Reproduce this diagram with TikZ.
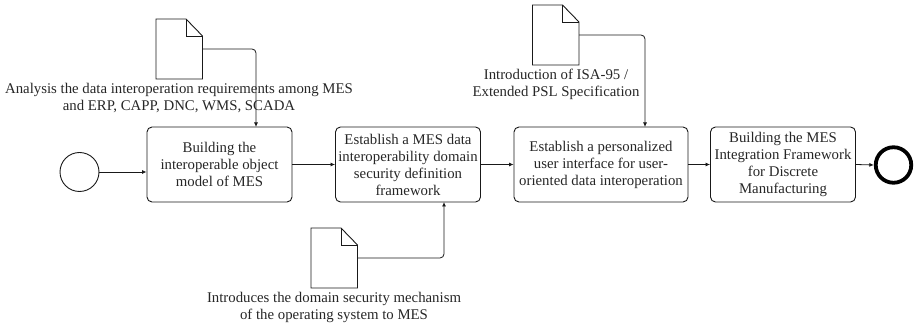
\documentclass[tikz,border=0pt]{standalone}
\usepackage{fontspec}
\setmainfont{Liberation Serif}
\usetikzlibrary{arrows.meta,calc}
\tikzset{
  x=1pt,y=-1pt,
  lbl/.style={font=\fontsize{14.8}{17}\selectfont,align=center,inner sep=0pt,text=black!85},
  taskbox/.style={draw=black!90,line width=0.9pt,rounded corners=5pt,inner sep=0pt,minimum height=75pt,align=center,font=\fontsize{14.8}{17}\selectfont,text=black!85},
  docbox/.style={minimum width=46.5pt,minimum height=60pt,inner sep=0pt,outer sep=0pt},
  docline/.style={draw=black!90,line width=0.9pt,line join=miter},
  flow/.style={draw=black!90,line width=0.8pt,rounded corners=4pt,-{Latex[length=4.5pt,width=4pt]}}
}
\newcommand{\docoutline}[1]{%
  \draw[docline] (#1.south west) -- (#1.north west) -- ($(#1.north east)+(-16.5,0)$) -- ($(#1.north east)+(0,17)$) -- (#1.south east) -- cycle;
  \draw[docline] ($(#1.north east)+(-16.5,0)$) -- ($(#1.north east)+(-16.5,17)$) -- ($(#1.north east)+(0,17)$);
}
\begin{document}
\begin{tikzpicture}
\useasboundingbox (0,0) rectangle (914,328);
\node[draw=black!90,line width=0.9pt,circle,minimum size=39pt,inner sep=0pt] (start) at (79.5,172) {};
\node[taskbox,minimum width=145pt] (b1) at (219.5,164.5) {Building the\\interoperable object\\model of MES};
\node[taskbox,minimum width=145pt] (b2) at (408,164.5) {Establish a MES data\\interoperability domain\\security definition\\framework};
\node[taskbox,minimum width=174pt] (b3) at (601,164.5) {Establish a personalized\\user interface for user-\\oriented data interoperation};
\node[taskbox,minimum width=145pt] (b4) at (783,164.5) {Building the MES\\Integration Framework\\for Discrete\\Manufacturing};
\node[draw=black,line width=3.8pt,circle,minimum size=35.5pt,inner sep=0pt] (stop) at (893.5,165) {};
\node[docbox] (d1) at (179.25,49) {};
\node[docbox] (d2) at (555.75,35) {};
\node[docbox] (d3) at (334.25,258) {};
\docoutline{d1}
\docoutline{d2}
\docoutline{d3}
\node[lbl] (t1) at (179,98.5) {Analysis the data interoperation requirements among MES\\and ERP, CAPP, DNC, WMS, SCADA};
\node[lbl] (t2) at (556,84) {Introduction of ISA-95 /\\Extended PSL Specification};
\node[lbl] (t3) at (334,307.5) {Introduces the domain security mechanism\\of the operating system to MES};
\coordinate (in1) at (256,127);
\coordinate (in2) at (645,127);
\coordinate (in3) at (444,202);
\draw[flow] (start.east) -- (start.east -| b1.west);
\draw[flow] (b1.east) -- (b2.west);
\draw[flow] (b2.east) -- (b3.west);
\draw[flow] (b3.east) -- (b4.west);
\draw[flow] (b4.east) -- (stop.west);
\draw[flow] (d1.east) -| (in1);
\draw[flow] (d2.east) -| (in2);
\draw[flow] (d3.east) -| (in3);
\end{tikzpicture}
\end{document}
